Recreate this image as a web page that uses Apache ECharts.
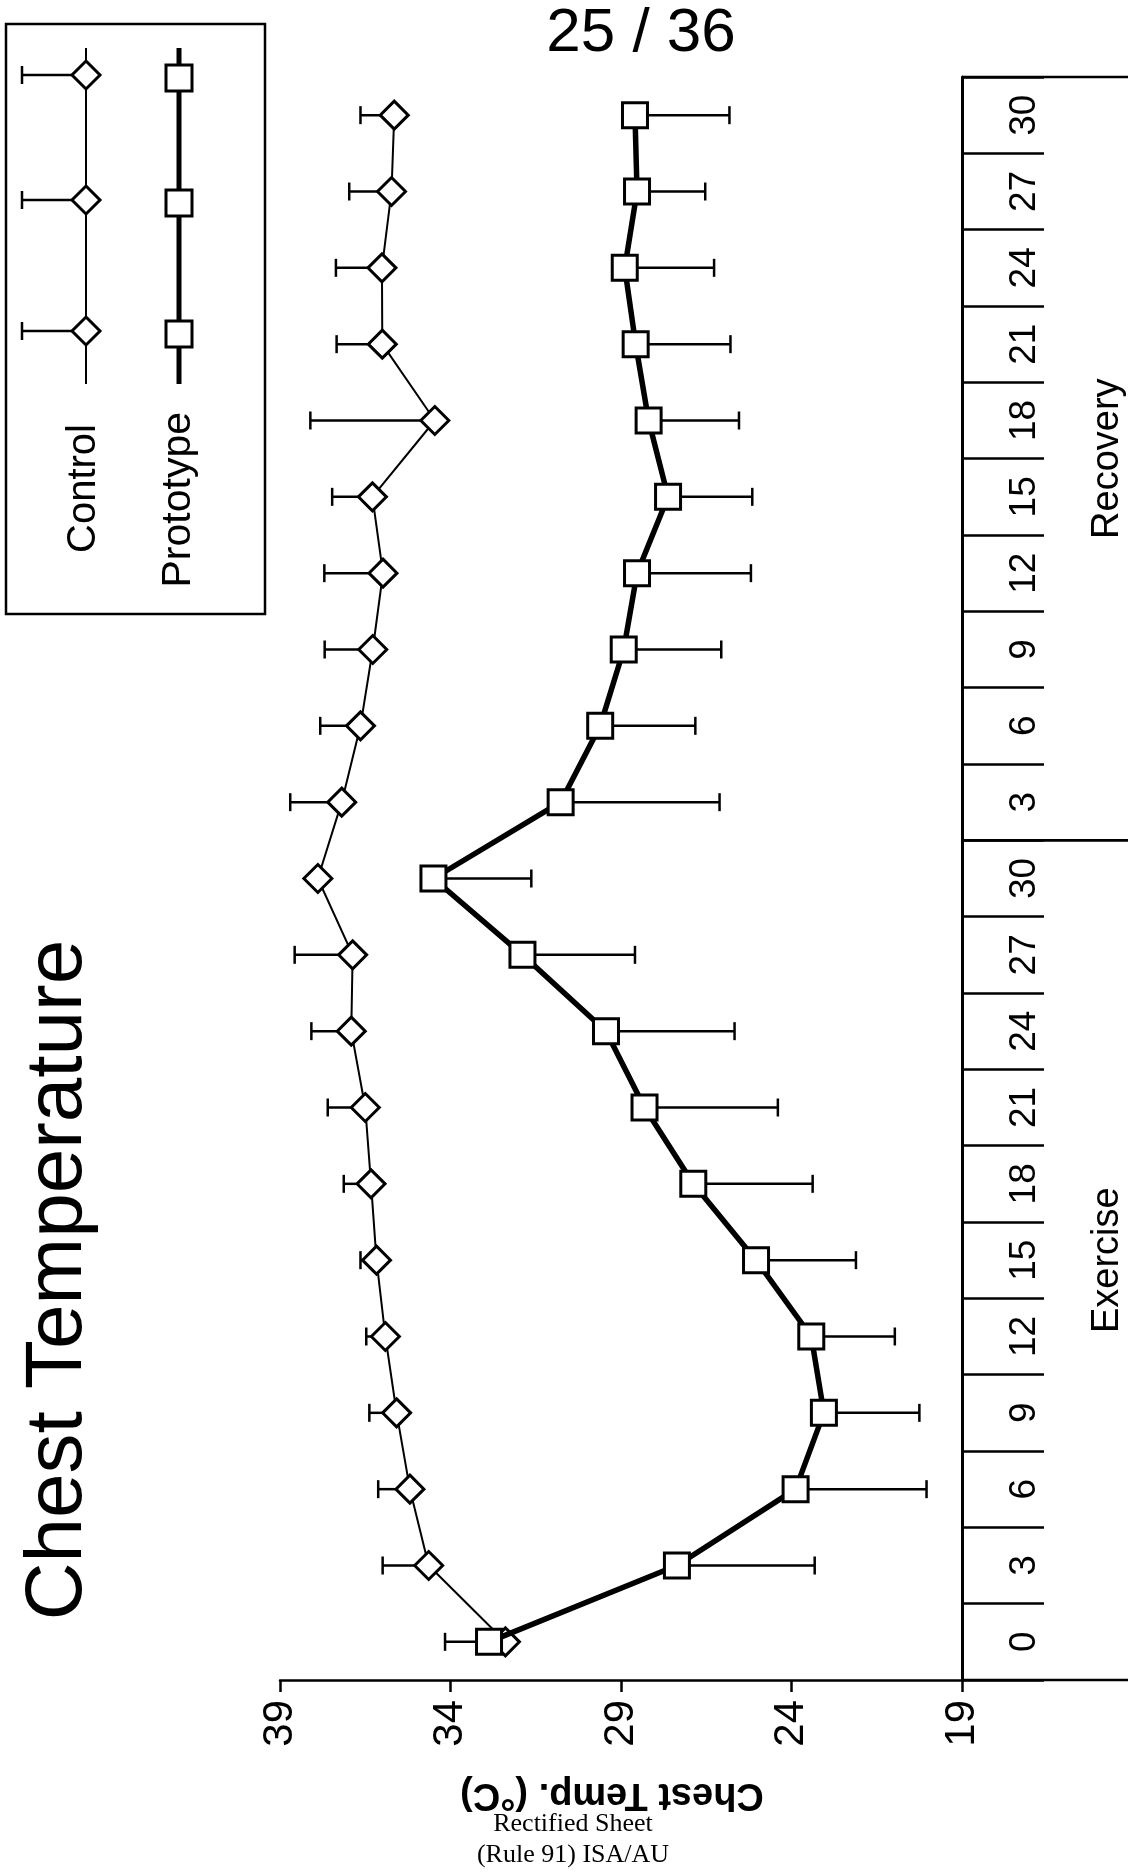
<!DOCTYPE html>
<html>
<head>
<meta charset="utf-8">
<script src="https://cdn.jsdelivr.net/npm/echarts@6/dist/echarts.min.js"></script>
<style>
html,body{margin:0;padding:0;background:#fff;}
#c{width:1128px;height:1872px;}
</style>
</head>
<body>
<div id="c"></div>
<script>
// ---------- data ----------
const exerciseTimes = ['0','3','6','9','12','15','18','21','24','27','30'];
const recoveryTimes = ['3','6','9','12','15','18','21','24','27','30'];
const phaseNames = ['Exercise','Recovery'];
const tempTicks = [19, 24, 29, 34, 39];

const controlMean   = [32.39, 34.64, 35.19, 35.58, 35.91, 36.17, 36.33, 36.50, 36.91, 36.87, 37.89,
                       37.19, 36.64, 36.28, 35.98, 36.29, 34.46, 36.00, 36.01, 35.73, 35.65];
const controlErr    = [1.77, 1.35, 0.93, 0.80, 0.56, 0.47, 0.80, 1.10, 1.17, 1.70, null,
                       1.51, 1.18, 1.41, 1.72, 1.18, 3.65, 1.34, 1.35, 1.24, 0.99];
const prototypeMean = [32.87, 27.36, 23.88, 23.05, 23.42, 25.04, 26.88, 28.31, 29.44, 31.89, 34.50,
                       30.77, 29.61, 28.92, 28.53, 27.62, 28.19, 28.57, 28.89, 28.53, 28.59];
const prototypeErr  = [null, 4.04, 3.84, 2.80, 2.45, 2.93, 3.50, 3.91, 3.77, 3.30, 2.87,
                       4.66, 2.79, 2.86, 3.34, 2.47, 2.65, 2.78, 2.62, 2.00, 2.77];

// ---------- derived ----------
const phaseTimes = [exerciseTimes, recoveryTimes];
const categories = [];
const catLabels = [];
const groups = [];
let k = 0;
phaseTimes.forEach((times, p) => {
  times.forEach(t => { categories.push(phaseNames[p] + ' ' + t); catLabels.push(t); });
  groups.push([tempTicks[0], k, k + times.length - 1]);
  k += times.length;
});

const SANS = '"Liberation Sans", Arial, Helvetica, sans-serif';
const SERIF = '"Liberation Serif", "Times New Roman", serif';

function errorSeries(name, means, errs, dir) {
  return {
    type: 'custom', name: name, z: 1, silent: true, clip: false,
    data: means.map((m, i) => [m, i, errs[i] == null ? 0 : errs[i]]),
    encode: { x: 0, y: 1 },
    renderItem: function (params, api) {
      const v = api.value(0), i = api.value(1), e = api.value(2);
      if (!(e > 0)) return null;
      const p0 = api.coord([v, i]);
      const p1 = api.coord([v + dir * e, i]);
      const cap = 9;
      const st = { stroke: '#000', lineWidth: 2.5 };
      return { type: 'group', children: [
        { type: 'line', shape: { x1: p0[0], y1: p0[1], x2: p1[0], y2: p1[1] }, style: st },
        { type: 'line', shape: { x1: p1[0], y1: p1[1] - cap, x2: p1[0], y2: p1[1] + cap }, style: st }
      ]};
    }
  };
}

const decorSeries = {
  type: 'custom', z: 1, silent: true, clip: false,
  data: groups,
  encode: { x: 0, y: [1, 2] },
  renderItem: function (params, api) {
    const band = api.size([0, 1])[1];
    const pS = api.coord([api.value(0), api.value(1)]);
    const pE = api.coord([api.value(0), api.value(2)]);
    const yB = pS[1] + band / 2, yT = pE[1] - band / 2;
    const x0 = pS[0], W = api.getWidth();
    const st = { stroke: '#000', lineWidth: 2.5 };
    return { type: 'group', children: [
      { type: 'line', shape: { x1: x0, y1: yB, x2: W, y2: yB }, style: st },
      { type: 'line', shape: { x1: x0, y1: yT, x2: W, y2: yT }, style: st },
      { type: 'text', x: x0 + 146, y: (yB + yT) / 2, rotation: Math.PI / 2,
        style: { text: phaseNames[params.dataIndex], fontSize: 38, fontFamily: SANS, fill: '#000',
                 align: 'center', verticalAlign: 'middle', textAlign: 'center', textVerticalAlign: 'middle' } }
    ]};
  }
};

// ---------- legend (drawn) ----------
function diamond(cx, cy, r) {
  return { type: 'polygon', shape: { points: [[cx, cy - r], [cx + r, cy], [cx, cy + r], [cx - r, cy]] },
           style: { fill: '#fff', stroke: '#000', lineWidth: 3 } };
}
function square(cx, cy, s) {
  return { type: 'rect', shape: { x: cx - s / 2, y: cy - s / 2, width: s, height: s },
           style: { fill: '#fff', stroke: '#000', lineWidth: 3 } };
}
function seg(x1, y1, x2, y2, w) {
  return { type: 'line', shape: { x1: x1, y1: y1, x2: x2, y2: y2 }, style: { stroke: '#000', lineWidth: w } };
}
function vtext(txt, x, y, size, align) {
  return { type: 'text', x: x, y: y, rotation: Math.PI / 2,
           style: { text: txt, fontSize: size, fontFamily: SANS, fill: '#000',
                    align: align, verticalAlign: 'middle', textAlign: align, textVerticalAlign: 'middle' } };
}
const LCX = 86, LPX = 179;
const legendEls = [];
legendEls.push({ type: 'rect', shape: { x: 6, y: 24, width: 259, height: 590 },
                 style: { fill: 'none', stroke: '#000', lineWidth: 2.5 } });
legendEls.push(seg(LCX, 48, LCX, 384, 2));
[75, 200, 331].forEach(y => {
  legendEls.push(seg(22, y, LCX, y, 2.5));
  legendEls.push(seg(22, y - 9, 22, y + 9, 2.5));
});
[75, 200, 331].forEach(y => legendEls.push(diamond(LCX, y, 14)));
legendEls.push(seg(LPX, 48, LPX, 384, 5));
[78, 203, 334].forEach(y => legendEls.push(square(LPX, y, 26)));
legendEls.push(vtext('Control', LCX - 2, 424, 40, 'right'));
legendEls.push(vtext('Prototype', LPX, 412, 41, 'right'));

const textEls = [
  vtext('Chest Temperature', 59, 1280, 80, 'center'),
  { type: 'text', x: 641, y: 34,
    style: { text: '25 / 36', fontSize: 62, fontFamily: SANS, fill: '#000',
             align: 'center', verticalAlign: 'middle', textAlign: 'center', textVerticalAlign: 'middle' } },
  { type: 'text', x: 573, y: 1824,
    style: { text: 'Rectified Sheet', fontSize: 26, fontFamily: SERIF, fill: '#000',
             align: 'center', verticalAlign: 'middle', textAlign: 'center', textVerticalAlign: 'middle' } },
  { type: 'text', x: 573, y: 1855,
    style: { text: '(Rule 91) ISA/AU', fontSize: 26, fontFamily: SERIF, fill: '#000',
             align: 'center', verticalAlign: 'middle', textAlign: 'center', textVerticalAlign: 'middle' } }
];

// ---------- chart ----------
const chart = echarts.init(document.getElementById('c'), null, { renderer: 'canvas', width: 1128, height: 1872 });
const option = {
  animation: false,
  backgroundColor: '#fff',
  grid: { left: 280, right: 166, top: 77, bottom: 192, containLabel: false, outerBoundsMode: 'none' },
  xAxis: {
    type: 'value', min: tempTicks[0], max: tempTicks[tempTicks.length - 1], inverse: true,
    axisLine: { show: true, onZero: false, lineStyle: { color: '#000', width: 2.5 } },
    axisTick: { show: true, length: 12, customValues: tempTicks, lineStyle: { color: '#000', width: 2.5 } },
    axisLabel: { rotate: 90, margin: 20, fontSize: 42, fontFamily: SANS, color: '#000', customValues: tempTicks },
    splitLine: { show: false },
    name: 'Chest Temp. (°C)', nameLocation: 'middle', nameRotate: 180, nameGap: 95,
    nameTextStyle: { fontSize: 38, fontWeight: 'bold', fontFamily: SANS, color: '#000', padding: [0, 0, 0, 18] }
  },
  yAxis: {
    type: 'category', position: 'right', data: categories, boundaryGap: true,
    axisLine: { show: true, onZero: false, lineStyle: { color: '#000', width: 3 } },
    axisTick: { show: true, length: 82, interval: 0, lineStyle: { color: '#000', width: 2.5 } },
    axisLabel: { rotate: 90, margin: 44, interval: 0, fontSize: 37, fontFamily: SANS, color: '#000',
                 formatter: function (v, i) { return catLabels[i]; } },
    splitLine: { show: false }
  },
  graphic: { elements: legendEls.concat(textEls) },
  series: [
    decorSeries,
    errorSeries('Control error', controlMean, controlErr, 1),
    errorSeries('Prototype error', prototypeMean, prototypeErr, -1),
    {
      type: 'line', name: 'Control', z: 3, silent: true,
      data: controlMean.map((v, i) => [v, i]),
      symbol: 'diamond', symbolSize: 28, showAllSymbol: true,
      lineStyle: { color: '#000', width: 2 },
      itemStyle: { color: '#fff', borderColor: '#000', borderWidth: 3 },
      emphasis: { disabled: true }
    },
    {
      type: 'line', name: 'Prototype', z: 4, silent: true,
      data: prototypeMean.map((v, i) => [v, i]),
      symbol: 'rect', symbolSize: 25, showAllSymbol: true,
      lineStyle: { color: '#000', width: 5.5 },
      itemStyle: { color: '#fff', borderColor: '#000', borderWidth: 3 },
      emphasis: { disabled: true }
    }
  ]
};
chart.setOption(option);
</script>
</body>
</html>
